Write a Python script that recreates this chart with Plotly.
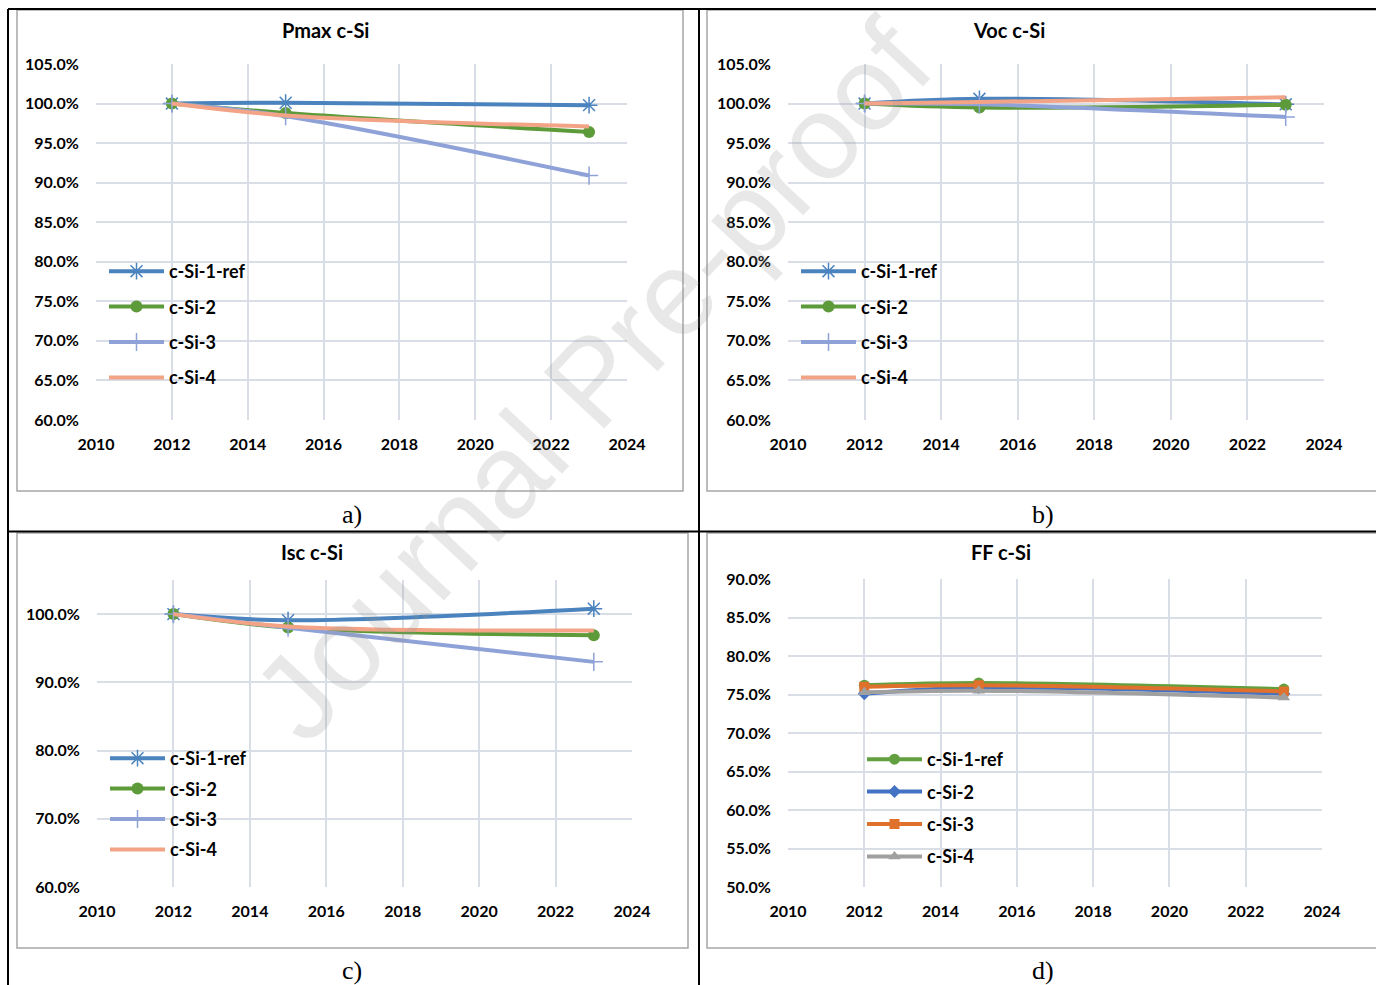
import plotly.graph_objects as go

W, H = 1376, 985

years = [2012, 2015, 2023]

# Pmax (%)
pmax_ref = [100.0, 100.1, 99.8]
pmax_2 = [100.0, 98.8, 96.4]
pmax_3 = [100.0, 98.4, 90.9]
pmax_4 = [100.0, 98.5, 97.1]

# Voc (%)
voc_ref = [100.0, 100.6, 99.9]
voc_2 = [100.0, 99.5, 99.85]
voc_3 = [100.0, 99.9, 98.3]
voc_4 = [100.0, 100.2, 100.8]

# Isc (%)
isc_ref = [100.0, 99.1, 100.8]
isc_2 = [100.0, 98.05, 96.9]
isc_3 = [100.0, 98.0, 93.0]
isc_4 = [100.0, 98.2, 97.6]

# FF (%)
ff_1 = [76.2, 76.5, 75.7]
ff_2 = [75.1, 75.9, 75.1]
ff_3 = [76.0, 76.2, 75.4]
ff_4 = [75.3, 75.5, 74.6]

names = ["c-Si-1-ref", "c-Si-2", "c-Si-3", "c-Si-4"]
titles = ["Pmax c-Si", "Voc c-Si", "Isc c-Si", "FF c-Si"]
captions = ["a)", "b)", "c)", "d)"]

FONT = "Lato"
GRID = "#D9DDE6"


def px(x):
    return x / W


def py(y):
    return 1 - y / H


fig = go.Figure()

abc_styles = [
    dict(color="#4A83BD", symbol="asterisk-open", size=14),
    dict(color="#5D9A3A", symbol="circle", size=12),
    dict(color="#8FA2D8", symbol="cross-thin-open", size=13),
    dict(color="#F3A487", symbol=None, size=0),
]
d_styles = [
    dict(color="#62A03F", symbol="circle", size=11),
    dict(color="#4472C4", symbol="diamond", size=10),
    dict(color="#E0712D", symbol="square", size=10),
    dict(color="#A0A0A0", symbol="triangle-up", size=11),
]

panels = [
    ([pmax_ref, pmax_2, pmax_3, pmax_4], abc_styles),
    ([voc_ref, voc_2, voc_3, voc_4], abc_styles),
    ([isc_ref, isc_2, isc_3, isc_4], abc_styles),
    ([ff_1, ff_2, ff_3, ff_4], d_styles),
]

for p, (series, styles) in enumerate(panels):
    axn = "" if p == 0 else str(p + 1)
    for i, (vals, st) in enumerate(zip(series, styles)):
        if st["symbol"] is None:
            mode = "lines"
            marker = dict()
        else:
            mode = "lines+markers"
            if "open" in st["symbol"]:
                marker = dict(symbol=st["symbol"], size=st["size"], color=st["color"],
                              line=dict(color=st["color"], width=1.5))
            else:
                marker = dict(symbol=st["symbol"], size=st["size"], color=st["color"],
                              line=dict(width=0))
        fig.add_trace(go.Scatter(
            x=years, y=vals, name=names[i], mode=mode,
            line=dict(color=st["color"], width=4, shape="spline", smoothing=1),
            marker=marker,
            xaxis="x" + axn, yaxis="y" + axn,
            legend="legend" + axn, legendgroup=f"p{p}_{i}",
            showlegend=True,
        ))

areas = [
    (96, 627, 64, 420, 60, 105, 5),
    (788, 1324, 64, 420, 60, 105, 5),
    (97, 632, 580, 887, 60, 105, 10),
    (788, 1322, 579, 887, 50, 90, 5),
]

tickfont = dict(family=FONT, size=16, color="#000000", weight="bold")
layout = {}
for p, (x0, x1, y0, y1, ymin, ymax, dt) in enumerate(areas):
    axn = "" if p == 0 else str(p + 1)
    layout["xaxis" + axn] = dict(
        domain=[px(x0), px(x1)], range=[2010, 2024], dtick=2, tick0=2010,
        tickformat="d", showgrid=True, gridcolor=GRID, gridwidth=1.5,
        zeroline=False, showline=False, ticks="", tickfont=tickfont,
        anchor="y" + axn, fixedrange=True, ticklabelstandoff=13, automargin=False,
    )
    layout["yaxis" + axn] = dict(
        domain=[py(y1), py(y0)], range=[ymin, ymax], dtick=dt, tick0=ymin,
        tickformat=".1f", ticksuffix="%", showgrid=True, gridcolor=GRID, gridwidth=1.5,
        zeroline=False, showline=False, ticks="", tickfont=tickfont,
        anchor="x" + axn, fixedrange=True, ticklabelstandoff=16, automargin=False,
    )

legend_pos = [(104, 253, 9), (796, 253, 9), (105, 740, 4), (862, 741, 6)]
for p, (lx, ly, gap) in enumerate(legend_pos):
    key = "legend" if p == 0 else "legend" + str(p + 1)
    layout[key] = dict(
        x=px(lx), y=py(ly), xanchor="left", yanchor="top",
        bgcolor="rgba(0,0,0,0)", borderwidth=0,
        font=dict(family=FONT, size=18, color="#000000", weight="bold"),
        tracegroupgap=gap, itemwidth=55, traceorder="grouped",
    )

shapes = []
for (bx0, bx1, by0, by1) in [(17, 683, 10, 491), (707, 1390, 10, 491),
                              (17, 688, 533, 948), (707, 1390, 533, 948)]:
    shapes.append(dict(type="rect", xref="paper", yref="paper",
                       x0=px(bx0), x1=px(bx1), y0=py(by1), y1=py(by0),
                       line=dict(color="#A6A6A6", width=1.5), layer="below"))
for (lx0, ly0, lx1, ly1) in [(8, 9, 8, 990), (699, 9, 699, 990),
                              (8, 9, 1390, 9), (8, 531.5, 1390, 531.5)]:
    shapes.append(dict(type="line", xref="paper", yref="paper",
                       x0=px(lx0), x1=px(lx1), y0=py(ly0), y1=py(ly1),
                       line=dict(color="#000000", width=2)))

annotations = []
title_pos = [(325, 30), (1009, 30), (312, 552), (1001, 552)]
for t, (tx, ty) in zip(titles, title_pos):
    annotations.append(dict(text=t, x=px(tx), y=py(ty), xref="paper", yref="paper",
                            showarrow=False, xanchor="center", yanchor="middle",
                            font=dict(family=FONT, size=20, color="#000000", weight="bold")))
cap_pos = [(352, 514), (1043, 514), (352, 970), (1043, 970)]
for c, (cx, cy) in zip(captions, cap_pos):
    annotations.append(dict(text=c, x=px(cx), y=py(cy), xref="paper", yref="paper",
                            showarrow=False, xanchor="center", yanchor="middle",
                            font=dict(family="Liberation Serif", size=26, color="#000000")))
annotations.append(dict(text="Journal Pre-proof", x=px(592), y=py(380), xref="paper", yref="paper",
                        showarrow=False, xanchor="center", yanchor="middle", textangle=-47,
                        font=dict(family="Liberation Sans", size=120, color="rgba(150,150,150,0.22)")))

fig.update_layout(
    width=W, height=H, margin=dict(l=0, r=0, t=0, b=0, autoexpand=False),
    paper_bgcolor="#FFFFFF", plot_bgcolor="#FFFFFF",
    shapes=shapes, annotations=annotations, **layout,
)

fig.write_html("out.html", config={"displayModeBar": False},
               post_script="document.body.style.margin='0';document.body.style.overflow='hidden';")
